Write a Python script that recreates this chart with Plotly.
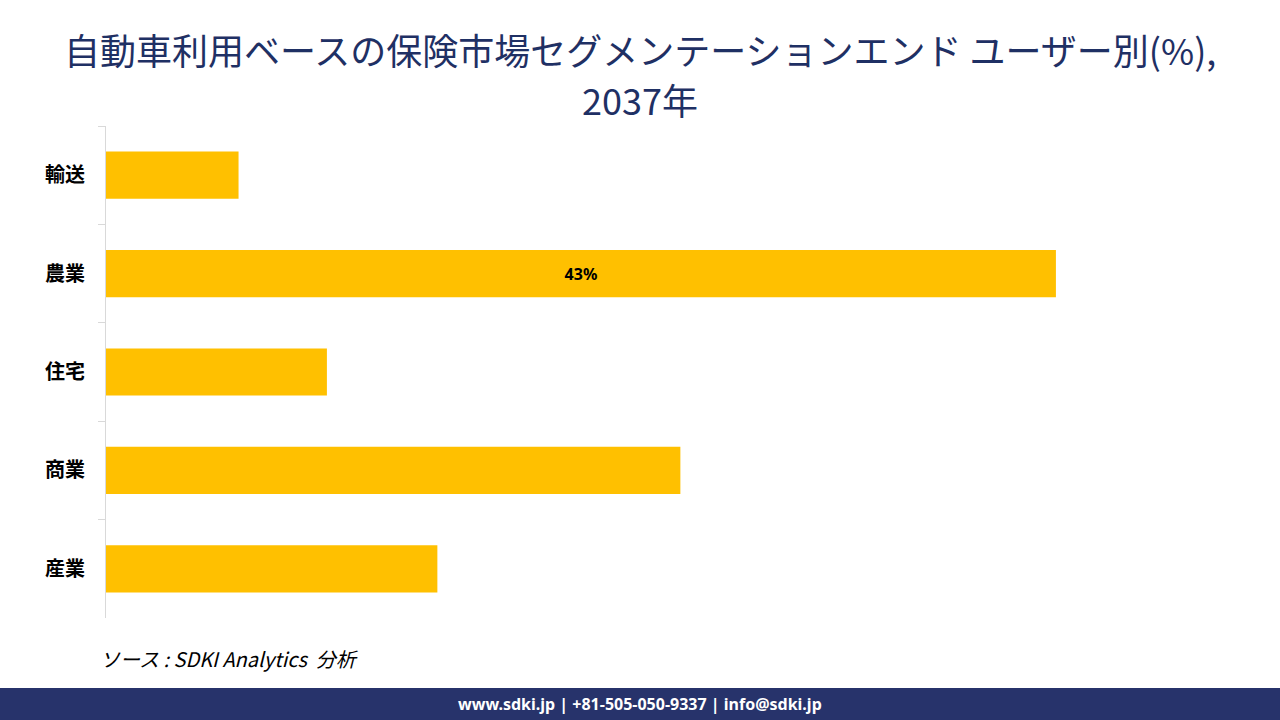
import plotly.graph_objects as go

categories = ["輸送", "農業", "住宅", "商業", "産業"]
values = [6, 43, 10, 26, 15]
labels = ["", "43%", "", "", ""]

title_line1 = "自動車利用ベースの保険市場セグメンテーションエンド ユーザー別(%),"
title_line2 = "2037年"
source_text = "ソース : SDKI Analytics  分析"
footer_text = "www.sdki.jp | +81-505-050-9337 | info@sdki.jp"

W, H = 1280, 720
L, R, T, B = 106, 50, 126, 102
PW, PH = W - L - R, H - T - B


def px(x):
    return (x - L) / PW


def py(y):
    return (H - y - B) / PH


fig = go.Figure()
fig.add_trace(go.Bar(
    x=values, y=categories, orientation="h",
    marker=dict(color="#FFC000", line=dict(width=0)),
    width=0.48,
    text=labels, textposition="inside", insidetextanchor="middle",
    textfont=dict(family="Noto Sans, Open Sans", size=16, color="#000000", weight="bold"),
    textangle=0, hoverinfo="skip",
))

fig.update_layout(
    width=W, height=H,
    margin=dict(l=L, r=R, t=T, b=B),
    paper_bgcolor="white", plot_bgcolor="white",
    showlegend=False,
    xaxis=dict(range=[0, 50.88], visible=False, showgrid=False, zeroline=False),
    yaxis=dict(
        type="category", autorange="reversed",
        showline=True, linecolor="#D9D9D9", linewidth=1,
        ticks="outside", tickson="boundaries", ticklen=7, tickcolor="#D9D9D9",
        tickfont=dict(family="Noto Sans CJK JP", size=20, color="#000000", weight="bold"),
        ticklabelstandoff=16,
        showgrid=False, zeroline=False,
    ),
    annotations=[
        dict(text=title_line1, x=px(640), y=py(49),
             xref="paper", yref="paper", xanchor="center", yanchor="middle",
             showarrow=False, align="center", borderpad=0,
             font=dict(family="Noto Sans CJK JP", size=36, color="#1F3064")),
        dict(text=title_line2, x=px(640), y=py(99),
             xref="paper", yref="paper", xanchor="center", yanchor="middle",
             showarrow=False, align="center", borderpad=0,
             font=dict(family="Noto Sans CJK JP", size=36, color="#1F3064")),
        dict(text="<i>" + source_text + "</i>", x=px(98), y=py(658),
             xref="paper", yref="paper", xanchor="left", yanchor="middle",
             showarrow=False, font=dict(family="Noto Sans CJK JP", size=20, color="#000000")),
        dict(text="<b>" + footer_text + "</b>", x=px(640), y=py(704),
             xref="paper", yref="paper", xanchor="center", yanchor="middle",
             showarrow=False, font=dict(family="Noto Sans, Open Sans", size=16, color="#FFFFFF")),
    ],
    shapes=[
        dict(type="rect", xref="paper", yref="paper", x0=px(0), x1=px(W), y0=py(720), y1=py(688),
             fillcolor="#27336B", line=dict(width=0), layer="below"),
    ],
)

fig.write_html("out.html")
